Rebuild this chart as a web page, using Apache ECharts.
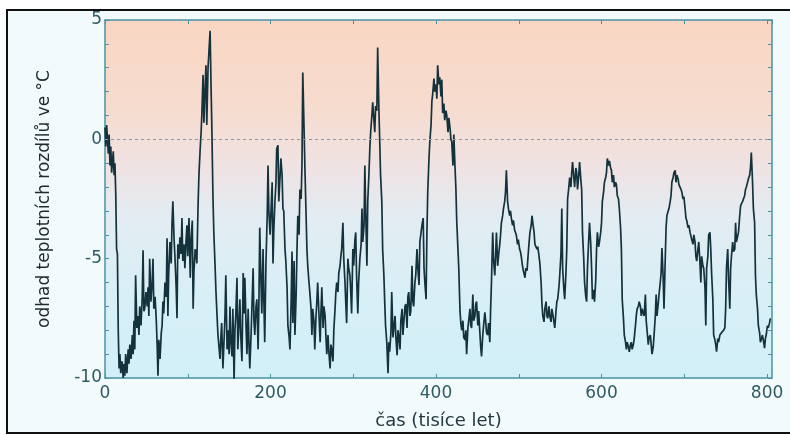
<!DOCTYPE html>
<html>
<head>
<meta charset="utf-8">
<script src="https://cdn.jsdelivr.net/npm/echarts@6/dist/echarts.min.js"></script>
<style>
html, body { margin: 0; padding: 0; background: #fff; }
#main { width: 790px; height: 435px; }
</style>
</head>
<body>
<div id="main"></div>
<script>
// stáří v tisících let
var ages = [
  0, 1, 2, 4, 5, 6, 7, 8, 10, 11,
  12, 13, 14, 15, 16, 17, 18, 19, 20.5, 22,
  23, 24, 25, 26.5, 28,
  29, 30, 31.5, 33, 34, 35, 36, 37, 38.5, 40,
  41, 42, 43.5, 45, 46, 47, 48, 49.5, 51, 52,
  53, 54, 55.5, 57, 58, 59, 60.5, 62, 63, 64,
  65, 66.5, 68, 69, 70, 71, 72.5, 74, 75, 76,
  77, 78.5, 80, 81, 82, 83.5, 84.5, 86, 87, 88,
  89.5, 90.5, 92, 93, 94, 95.5, 96.5, 98, 99, 100,
  101.5, 103, 104, 105.5, 106.5, 107.5, 109, 110, 111, 112.5,
  113.5, 115, 116, 117, 118.5, 119.5, 121, 122, 123, 124.5,
  125.5, 127, 128, 129, 130.5, 131.5, 133, 134, 135, 136.5,
  137.5, 139, 140, 141, 142.5, 144, 145, 146, 147.5, 148.5,
  150, 151, 152, 153.5, 154.5, 156, 157, 158, 159.5, 160.5,
  162, 163, 164, 165.5, 167, 168, 169, 170.5, 171.5, 173,
  174, 175, 176.5, 177.5, 179, 180, 181, 182.5, 183.5, 185,
  186, 187, 188.5, 189.5, 191, 192, 193, 194.5, 196, 197,
  198, 199.5, 200.5, 202, 203, 204, 205.5,
  206.5, 207.5, 209, 210, 211.5, 212.5, 214, 215, 216, 217.5,
  218.5, 220, 221, 222.5, 223.5, 225, 226, 227, 228.5, 229.5,
  231, 232, 233, 234.5, 235.5, 237, 238, 239, 240.5, 241.5,
  243, 244, 245, 246.5, 247.5, 249, 250, 251, 252.5, 253.5,
  255, 256, 257, 258.5, 260, 261, 262, 263.5, 264.5, 266,
  267, 268, 269.5, 270.5, 272, 273, 274, 275.5, 276.5, 278,
  279, 280, 281.5, 282.5, 284, 285, 286, 287.5, 288.5, 290,
  291, 292, 293.5, 294.5, 296, 297, 298, 299.5, 300.5, 302,
  303, 304, 305.5, 306.5, 308,
  309.5, 310.5, 311.5, 313, 314, 315, 316.5, 317.5, 319, 320,
  321, 322.5, 323.5, 325, 326, 327, 328.5, 329.5, 331, 332,
  333, 334.5, 335.5, 337, 338, 339, 340.5, 342, 343, 344,
  345.5, 346.5, 348, 349, 350.5, 351.5, 353, 354, 355, 356.5,
  357.5, 359, 360, 361, 362.5, 363.5, 365, 366, 367, 368.5,
  369.5, 371, 372, 373, 374.5, 375.5, 377, 378, 379.5, 380.5,
  382, 383, 384.5, 385.5, 386.5, 388, 389, 390, 391.5, 392.5,
  394, 395, 396, 397.5, 398.5, 400, 401, 402, 403.5, 404.5,
  406, 407, 408, 409.5, 410.5,
  412, 413, 414.5, 415.5, 417, 418, 419, 420.5, 421.5, 423,
  424, 425, 426.5, 427.5, 429, 430, 431, 432.5, 433.5, 435,
  436, 437, 438.5, 439.5, 441, 442, 443, 444.5, 445.5, 447,
  448, 449, 450.5, 451.5, 453, 454, 455, 456.5, 457.5, 459,
  460, 461, 462.5, 463.5, 465, 466, 467, 468.5, 469.5, 471,
  472, 473, 474.5, 475.5, 477, 478, 479, 480.5, 481.5, 483,
  484, 485, 486.5, 487.5, 489, 490, 491, 492.5, 493.5, 495,
  496, 497, 498.5, 499.5, 501, 502, 503, 504.5, 505.5, 507.5,
  508.5, 510, 511,
  512.5, 513.5, 515, 516, 517, 518.5, 519.5, 521, 522, 523,
  524.5, 525.5, 527, 528, 529, 530.5, 531.5, 533, 534, 535,
  536.5, 537.5, 539, 540, 541, 542.5, 543.5, 545, 546, 547,
  548.5, 549.5, 551, 552, 553, 554.5, 555.5, 557, 558, 559,
  560.5, 561.5, 563, 564, 565, 566.5, 567.5, 569, 570, 571,
  572.5, 573.5, 575, 576, 577, 578.5, 579.5, 581, 582, 583,
  584.5, 585.5, 587, 588, 589, 590.5, 591.5, 593, 594, 595,
  596.5, 597.5, 599, 600, 601, 602.5, 603.5, 605, 606, 607,
  608.5, 609.5,
  611, 612, 613, 614.5, 615.5, 617, 618, 619, 620.5, 621.5,
  623, 624, 625, 626.5, 627.5, 629, 630, 631, 632.5, 633.5,
  635, 636, 637, 638.5, 639.5, 641, 642, 643, 644.5, 645.5,
  647, 648, 649, 650.5, 651.5, 653, 654, 655, 656.5, 657.5,
  659, 660, 661, 662.5, 663.5, 665, 666, 667, 668.5, 669.5,
  671, 672, 673, 674.5, 675.5, 677, 678, 679, 680.5, 681.5,
  683, 684, 685, 686.5, 687.5, 689, 690, 691, 692.5, 693.5,
  695, 696, 697, 698.5, 699.5, 701, 702, 703, 704.5, 705.5,
  707, 708, 709, 710.5, 711.5, 713, 714, 715, 716.5,
  717.5, 719, 720, 721, 722.5, 723.5, 725, 726, 727, 728.5,
  729.5, 731, 732, 733, 734.5, 735.5, 737, 738, 739, 740.5,
  741.5, 743, 744, 745, 746.5, 747.5, 749, 750, 751, 752.5,
  753.5, 755, 756, 757, 758.5, 759.5, 761, 762, 763, 764.5,
  765.5, 767, 768, 769, 770.5, 771.5, 773, 774, 775, 776.5,
  777.5, 779, 780, 781, 782.5, 783.5, 785, 786, 787, 788.5,
  789.5, 791, 792, 793, 794.5, 795.5, 797, 798, 799, 800.5,
  801.5, 803, 804
];

// odhad teplotního rozdílu (°C) ve stejných bodech
var temps = [
  0.5, -0.3, 0.6, -0.6, 0.2, -1.1, -0.3, -1.4, -0.5, -1.5,
  -1.0, -2.3, -4.6, -4.8, -8.0, -9.6, -9.0, -9.8, -9.3, -10.0,
  -9.4, -9.9, -9.0, -9.8, -8.8,
  -9.4, -8.6, -9.2, -8.2, -9.0, -7.6, -8.8, -5.7, -7.9, -7.4,
  -8.2, -7.0, -7.8, -6.6, -4.65, -7.2, -7.1, -6.4, -7.0, -6.2,
  -7.4, -5.0, -6.8, -6.0, -5.0, -7.1, -6.6, -7.6, -8.6, -9.9,
  -8.4, -9.2, -8.1, -7.8, -6.8, -7.3, -6.0, -6.6, -4.15, -7.4,
  -5.6, -4.3, -5.2, -3.5, -2.6, -4.2, -4.9, -6.2, -7.5, -4.4,
  -5.0, -4.1, -4.8, -3.3, -5.1, -4.4, -5.4, -4.2, -3.6, -4.9,
  -3.3, -5.8, -4.2, -3.4, -7.1, -5.5, -4.6, -4.8, -5.2, -2.7,
  -1.5, -0.4, 0.2, 1.0, 2.7, 0.7, 2.2, 3.1, 0.6, 3.0,
  3.6, 4.55, 2.5, 0.7, -2.5, -3.9, -5.3, -6.3, -7.1, -8.2,
  -8.6, -9.2, -8.3, -7.7, -9.6, -8.3, -7.4, -5.7, -8.8, -8.0,
  -9.0, -7.0, -8.4, -9.1, -7.1, -10.1, -8.0, -7.4, -5.8, -8.8,
  -7.6, -6.7, -8.2, -9.3, -5.6, -7.3, -5.8, -7.9, -9.0, -7.1,
  -8.6, -9.6, -8.2, -7.1, -5.4, -7.6, -8.2, -7.0, -6.7, -8.8,
  -6.8, -3.7, -6.0, -7.3, -4.6, -6.8, -8.5, -5.2, -3.2, -1.1,
  -3.0, -4.0, -3.1, -1.8, -5.2, -3.8, -2.5,
  -1.9, -0.4, -0.25, -2.6, -1.6, -0.8, -1.5, -2.9, -3.0, -4.6,
  -5.1, -6.2, -7.8, -8.3, -8.8, -6.7, -4.7, -7.7, -5.1, -8.2,
  -6.5, -4.6, -3.2, -4.0, -2.1, -2.5, -1.1, 2.8, 0.5, -1.1,
  -3.2, -4.6, -5.3, -6.0, -6.4, -7.1, -8.2, -7.1, -7.6, -8.8,
  -7.4, -6.8, -6.0, -7.3, -8.5, -7.2, -6.2, -7.9, -7.0, -7.4,
  -8.3, -9.0, -8.2, -8.9, -9.6, -8.6, -8.8, -9.3, -8.0, -7.1,
  -6.4, -6.0, -6.4, -5.6, -5.3, -4.9, -4.6, -3.5, -5.0, -6.0,
  -6.9, -7.7, -5.0, -5.4, -5.7, -6.4, -7.3, -4.6, -5.3, -4.2,
  -3.9, -5.7, -7.3, -6.0, -5.0,
  -4.4, -2.9, -4.3, -3.6, -1.1, -3.0, -5.3, -2.6, -1.4, -0.4,
  0.3, 1.0, 1.55, 0.8, 0.3, 1.4, 1.2, 3.85, 1.2, -0.1,
  -1.5, -2.6, -4.6, -5.7, -6.8, -7.8, -8.5, -9.8, -8.5, -8.9,
  -8.1, -6.4, -8.3, -7.9, -7.4, -8.3, -9.05, -8.0, -8.2, -8.8,
  -7.6, -7.1, -8.2, -8.2, -7.0, -6.9, -7.9, -6.6, -6.4, -7.4,
  -7.2, -5.3, -6.8, -7.0, -6.0, -5.7, -4.6, -5.4, -6.1, -4.3,
  -4.3, -3.6, -3.3, -5.4, -6.0, -6.7, -3.9, -2.2, -0.8, -0.1,
  0.6, 1.6, 1.9, 2.55, 2.0, 2.3, 1.7, 3.1, 2.3, 2.6,
  1.8, 2.5, 1.1, 1.5, 0.8,
  1.2, 1.0, 0.3, 0.9, 0.45, 0.0, -0.1, -1.1, 0.2, -1.2,
  -2.05, -3.4, -4.6, -5.4, -7.2, -7.7, -8.0, -7.6, -8.3, -8.4,
  -8.0, -9.0, -7.9, -7.6, -7.1, -7.8, -7.9, -6.5, -7.6, -7.4,
  -6.9, -6.8, -7.8, -7.2, -8.1, -8.7, -9.1, -8.2, -7.8, -7.25,
  -7.6, -8.1, -8.2, -7.7, -8.5, -7.1, -6.0, -3.9, -5.0, -5.7,
  -4.9, -3.9, -5.3, -4.9, -4.4, -4.0, -3.5, -3.2, -2.9, -2.6,
  -2.2, -1.3, -2.6, -2.9, -3.2, -3.0, -3.3, -3.6, -3.4, -3.8,
  -3.9, -4.0, -4.4, -4.2, -4.6, -4.7, -4.9, -5.3, -5.5, -5.8,
  -5.4, -5.5, -5.0,
  -4.3, -3.9, -3.6, -3.2, -3.5, -3.9, -4.4, -4.4, -4.6, -4.5,
  -4.9, -5.2, -6.0, -6.9, -7.4, -7.65, -7.1, -6.8, -7.4, -7.5,
  -7.0, -7.4, -7.65, -7.1, -7.3, -7.65, -7.9, -7.2, -6.8, -6.7,
  -6.2, -5.7, -4.8, -2.9, -5.4, -6.3, -6.7, -5.6, -4.6, -2.5,
  -2.0, -1.6, -2.0, -1.4, -0.95, -1.6, -2.0, -1.2, -1.4, -2.1,
  -1.5, -0.95, -1.7, -2.1, -3.9, -5.0, -6.0, -6.6, -6.8, -5.4,
  -4.2, -3.5, -4.4, -5.4, -6.7, -6.3, -6.8, -5.9, -4.6, -3.9,
  -4.5, -4.3, -3.9, -3.5, -2.6, -2.2, -1.8, -1.6, -1.4, -0.8,
  -1.1, -0.9,
  -1.2, -1.3, -1.8, -1.5, -2.0, -1.8, -1.9, -2.35, -2.5, -2.9,
  -3.7, -4.6, -6.7, -7.5, -8.2, -8.5, -8.8, -8.5, -8.7, -8.9,
  -8.6, -8.5, -8.8, -8.6, -8.35, -7.8, -7.4, -7.1, -7.0, -6.8,
  -7.0, -7.4, -7.1, -7.3, -7.4, -6.5, -7.6, -8.0, -8.6, -8.3,
  -8.2, -8.6, -9.0, -8.7, -8.2, -7.4, -6.5, -7.4, -6.9, -6.5,
  -6.0, -5.6, -4.55, -5.8, -7.1, -5.0, -3.7, -3.2, -3.0, -2.9,
  -2.6, -2.35, -1.8, -1.6, -1.4, -1.3, -1.8, -1.5, -1.65, -1.9,
  -1.95, -2.1, -2.2, -2.5, -2.4, -2.9, -3.3, -3.4, -3.7, -3.6,
  -3.9, -3.9, -4.2, -4.4, -4.0, -4.3, -4.9, -5.1, -4.6,
  -4.3, -5.2, -6.0, -4.9, -5.3, -5.4, -6.2, -7.8, -5.4, -4.9,
  -4.0, -3.9, -4.6, -5.6, -6.7, -8.2, -8.4, -8.6, -8.9, -8.35,
  -8.5, -8.2, -8.2, -8.1, -8.1, -8.0, -7.9, -7.1, -5.4, -4.6,
  -5.8, -7.1, -5.4, -4.9, -4.3, -4.7, -4.6, -3.5, -4.3, -4.3,
  -3.9, -3.2, -2.8, -2.7, -2.6, -2.5, -2.35, -2.1, -2.0, -1.8,
  -1.65, -1.5, -1.2, -0.55, -1.8, -2.9, -3.5, -5.7, -6.5, -7.1,
  -7.8, -8.1, -8.5, -8.4, -8.2, -8.4, -8.75, -8.35, -8.2, -7.8,
  -7.9, -7.7, -7.5
];

var xLabels = [0, 200, 400, 600, 800];
var yLabels = [-10, -5, 0, 5];

var points = ages.map(function (a, i) { return [a, temps[i]]; });

var axisColor = '#4a93a3';
var labelColor = '#2e5b64';

var myChart = echarts.init(document.getElementById('main'));
myChart.setOption({
    animation: false,
    backgroundColor: '#ffffff',
    textStyle: { fontFamily: 'DejaVu Sans' },
    graphic: [{
        type: 'rect',
        z: -100,
        silent: true,
        shape: { x: 7, y: 10, width: 800, height: 423 },
        style: { fill: '#f3fafc', stroke: '#111111', lineWidth: 2 }
    }],
    grid: {
        left: 105,
        right: 18,
        top: 20,
        bottom: 57,
        show: true,
        borderWidth: 0,
        backgroundColor: new echarts.graphic.LinearGradient(0, 0, 0, 1, [
            { offset: 0, color: '#f9d6c3' },
            { offset: 0.25, color: '#f6dccf' },
            { offset: 0.42, color: '#efe3e4' },
            { offset: 0.55, color: '#e2ecf2' },
            { offset: 0.78, color: '#d8eff6' },
            { offset: 1, color: '#d2eff8' }
        ])
    },
    xAxis: [{
        type: 'value',
        min: 0,
        max: 806,
        interval: 100,
        name: 'čas (tisíce let)',
        nameLocation: 'middle',
        nameGap: 34,
        nameTextStyle: { fontSize: 18, color: '#243a40' },
        axisLine: { onZero: false, lineStyle: { color: axisColor, width: 1.5 } },
        axisTick: { inside: true, length: 4, lineStyle: { color: axisColor } },
        splitLine: { show: false },
        axisLabel: {
            fontSize: 17,
            color: labelColor,
            margin: 7,
            showMaxLabel: false,
            formatter: function (v) { return xLabels.indexOf(v) >= 0 ? String(v) : ''; }
        }
    }, {
        type: 'value',
        position: 'top',
        min: 0,
        max: 806,
        interval: 100,
        axisLine: { onZero: false, lineStyle: { color: axisColor, width: 1.5 } },
        axisTick: { inside: true, length: 4, lineStyle: { color: axisColor } },
        splitLine: { show: false },
        axisLabel: { show: false }
    }],
    yAxis: [{
        type: 'value',
        min: -10,
        max: 5,
        interval: 1,
        name: 'odhad teplotních rozdílů ve °C',
        nameLocation: 'middle',
        nameGap: 52,
        nameTextStyle: { fontSize: 17, color: '#1e2a2e' },
        axisLine: { show: true, onZero: false, lineStyle: { color: axisColor, width: 1.5 } },
        axisTick: { show: true, inside: true, length: 4, lineStyle: { color: axisColor } },
        splitLine: { show: false },
        axisLabel: {
            fontSize: 17,
            color: labelColor,
            margin: 3,
            formatter: function (v) { return yLabels.indexOf(v) >= 0 ? String(v) : ''; }
        }
    }, {
        type: 'value',
        position: 'right',
        min: -10,
        max: 5,
        interval: 1,
        axisLine: { show: true, onZero: false, lineStyle: { color: axisColor, width: 1.5 } },
        axisTick: { show: true, inside: true, length: 4, lineStyle: { color: axisColor } },
        splitLine: { show: false },
        axisLabel: { show: false }
    }],
    series: [{
        name: 'teplota',
        type: 'line',
        data: points,
        showSymbol: false,
        symbol: 'none',
        lineStyle: { color: '#14323c', width: 1.7 },
        markLine: {
            silent: true,
            symbol: 'none',
            label: { show: false },
            lineStyle: { color: '#8a9aa2', type: [3, 3], width: 1 },
            data: [{ yAxis: 0 }]
        }
    }]
});
</script>
</body>
</html>
